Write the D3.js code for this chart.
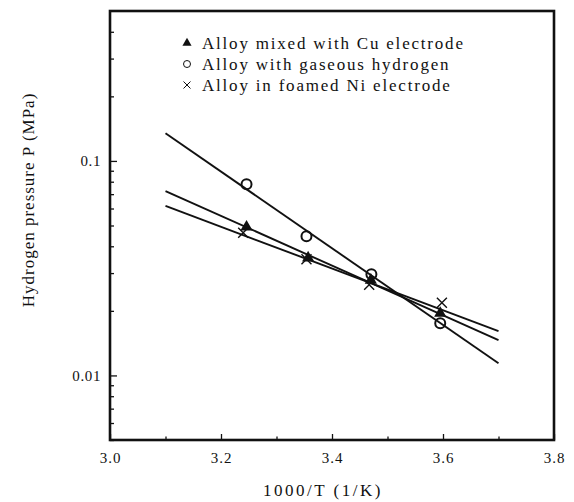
<!DOCTYPE html>
<html>
<head>
<meta charset="utf-8">
<script src="https://cdn.jsdelivr.net/npm/d3@7"></script>
<style>
  html, body { margin: 0; padding: 0; background: #fff; }
  svg { display: block; }
  text { font-family: "Liberation Serif", "Times New Roman", serif; fill: #111; }
</style>
</head>
<body>
<svg id="chart" width="574" height="502"></svg>
<script>
// ---- data ----
const seriesNames = ["Alloy mixed with Cu electrode", "Alloy with gaseous hydrogen", "Alloy in foamed Ni electrode"];
const seriesKeys = ["cu", "gas", "ni"];
// measured points: 1000/T and P (MPa)
const cuX = [3.246, 3.357, 3.47, 3.595];
const cuP = [0.0492, 0.0353, 0.0278, 0.0195];
const gasX = [3.246, 3.354, 3.471, 3.595];
const gasP = [0.0778, 0.0446, 0.0296, 0.0175];
const niX = [3.24, 3.354, 3.467, 3.598];
const niP = [0.0462, 0.0348, 0.0265, 0.0218];
// fitted straight lines (end points)
const fitX = [3.1, 3.7];
const cuFitP = [0.0724, 0.0146];
const gasFitP = [0.1346, 0.0114];
const niFitP = [0.0617, 0.0161];
// axis ticks
const xMajorTicks = [3.0, 3.2, 3.4, 3.6, 3.8];
const xMinorTicks = [3.1, 3.3, 3.5, 3.7];
const xTickLabels = ["3.0", "3.2", "3.4", "3.6", "3.8"];
const yMajorTicks = [0.01, 0.1];
const yTickLabels = ["0.01", "0.1"];
const yMinorTicks = [0.005, 0.006, 0.007, 0.008, 0.009, 0.02, 0.03, 0.04, 0.05, 0.06, 0.07, 0.08, 0.09, 0.2, 0.3, 0.4];
const xTitle = "1000/T (1/K)";
const yTitle = "Hydrogen pressure P (MPa)";

// ---- layout ----
const svg = d3.select("#chart");
const L = 110, R = 554, T = 11, B = 440;
const x = d3.scaleLinear().domain([3.0, 3.8]).range([L, R]);
const y = d3.scaleLog().domain([0.005, 0.5]).range([B, T]);

// x axis ticks (inward)
const gx = svg.append("g").attr("transform", `translate(0,${B})`);
gx.call(d3.axisBottom(x).tickValues(xMinorTicks).tickSize(-3.5).tickFormat(""));
const gx2 = svg.append("g").attr("transform", `translate(0,${B})`);
gx2.call(d3.axisBottom(x).tickValues(xMajorTicks).tickSize(-6).tickPadding(12)
  .tickFormat((d, i) => xTickLabels[i]));
[gx, gx2].forEach(g => { g.select(".domain").remove(); g.selectAll("line").attr("stroke", "#111").attr("stroke-width", 1.3); });
gx2.selectAll("text").attr("font-size", 15).attr("font-family", "Liberation Serif")
  .attr("letter-spacing", 1).attr("fill", "#222").attr("dy", "0.7em");

// y axis ticks (inward)
const gy = svg.append("g").attr("transform", `translate(${L},0)`);
gy.call(d3.axisLeft(y).tickValues(yMinorTicks).tickSize(-4).tickFormat(""));
const gy2 = svg.append("g").attr("transform", `translate(${L},0)`);
gy2.call(d3.axisLeft(y).tickValues(yMajorTicks).tickSize(-7).tickPadding(9)
  .tickFormat((d, i) => yTickLabels[i]));
[gy, gy2].forEach(g => { g.select(".domain").remove(); g.selectAll("line").attr("stroke", "#111").attr("stroke-width", 1.3); });
gy2.selectAll("text").attr("font-size", 15).attr("font-family", "Liberation Serif")
  .attr("letter-spacing", 0.6).attr("fill", "#222");

// frame
svg.append("rect").attr("x", L).attr("y", T).attr("width", R - L).attr("height", B - T)
  .attr("fill", "none").attr("stroke", "#111").attr("stroke-width", 2.6);

// fitted lines
const line = d3.line().x(d => x(d[0])).y(d => y(d[1]));
[cuFitP, gasFitP, niFitP].forEach(p => {
  svg.append("path").datum(fitX.map((v, i) => [v, p[i]])).attr("d", line)
    .attr("fill", "none").attr("stroke", "#111").attr("stroke-width", 1.9);
});

// markers
function drawMarker(g, key, cx, cy, s) {
  if (key === "cu") {
    g.append("path").attr("d", d3.symbol(d3.symbolTriangle, s * s * 0.45)())
      .attr("transform", `translate(${cx},${cy})`).attr("fill", "#111");
  } else if (key === "gas") {
    g.append("circle").attr("cx", cx).attr("cy", cy).attr("r", s / 2)
      .attr("fill", "none").attr("stroke", "#111").attr("stroke-width", s > 8 ? 2 : 1);
  } else {
    const h = s / 2;
    g.append("path").attr("d", `M${cx - h},${cy - h}L${cx + h},${cy + h}M${cx - h},${cy + h}L${cx + h},${cy - h}`)
      .attr("stroke", "#111").attr("stroke-width", s > 8 ? 1.4 : 1).attr("fill", "none");
  }
}
const pts = svg.append("g");
[[cuX, cuP, "cu"], [gasX, gasP, "gas"], [niX, niP, "ni"]].forEach(([xs, ps, k]) => {
  xs.forEach((v, i) => drawMarker(pts, k, x(v), y(ps[i]), k === "cu" ? 12 : 10));
});

// legend
const leg = svg.append("g");
const legOrder = ["cu", "gas", "ni"];
legOrder.forEach((k, i) => {
  const ly = 43 + i * 21;
  drawMarker(leg, k, 187, ly, k === "cu" ? 9 : 7);
  leg.append("text").attr("x", 202).attr("y", ly).attr("dy", "0.35em")
    .attr("font-size", 17).attr("letter-spacing", 1.8).text(seriesNames[seriesKeys.indexOf(k)]);
});

// axis titles
svg.append("text").attr("x", 323).attr("y", 490).attr("dy", "0.35em")
  .attr("text-anchor", "middle").attr("font-size", 17).attr("letter-spacing", 2.5).text(xTitle);
svg.append("text").attr("transform", `translate(28,200) rotate(-90)`).attr("dy", "0.35em")
  .attr("text-anchor", "middle").attr("font-size", 17).attr("letter-spacing", 1).text(yTitle);
</script>
</body>
</html>
